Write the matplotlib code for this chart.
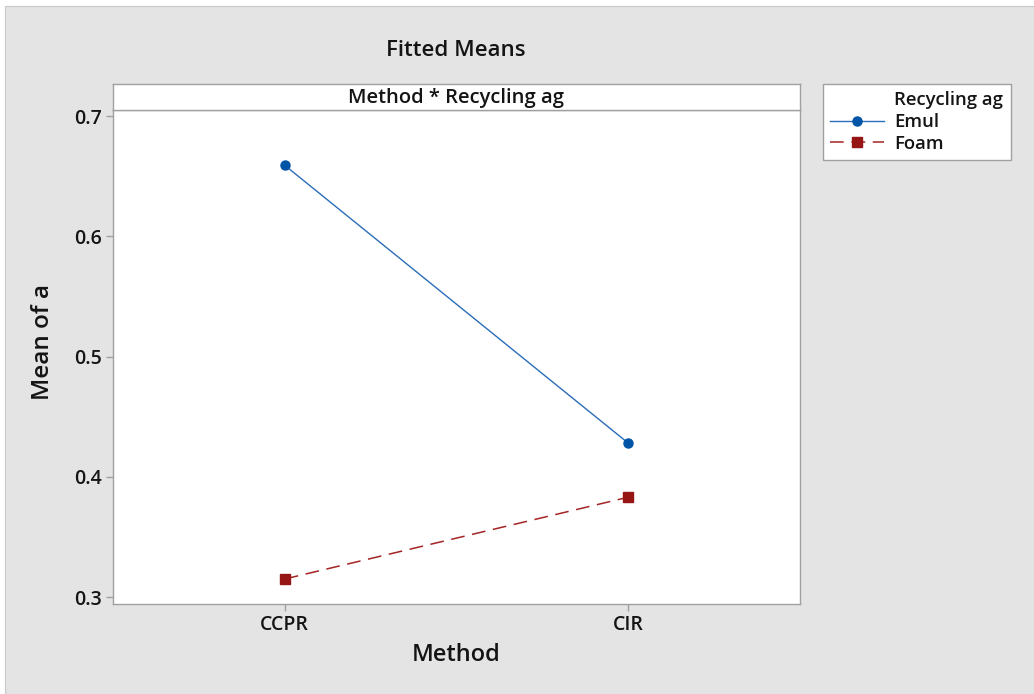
import matplotlib
matplotlib.use("Agg")
import matplotlib.pyplot as plt
from matplotlib.lines import Line2D
from matplotlib.patches import Rectangle

# Data
methods = ["CCPR", "CIR"]
emul_means = [0.659, 0.428]
foam_means = [0.315, 0.383]
y_ticks = [0.3, 0.4, 0.5, 0.6, 0.7]

plt.rcParams["font.family"] = ["Open Sans", "DejaVu Sans"]
plt.rcParams["font.weight"] = "semibold"

W, H = 1034, 694
fig = plt.figure(figsize=(W / 100, H / 100), dpi=100)
fig.patch.set_facecolor("white")

# Gray panel background
fig.add_artist(Rectangle((5 / W, 0), 1 - 5 / W, 1 - 6 / H, transform=fig.transFigure,
                         facecolor="#e4e4e4", edgecolor="#c8c8c8", linewidth=0.8, zorder=-10))

def fx(px):
    return px / W

def fy(py):
    return 1 - py / H

TXT = "#141414"

# Main plot axes
left, right, top, bottom = 113, 800, 110, 604
ax = fig.add_axes([fx(left), fy(bottom), fx(right - left), (bottom - top) / H])
ax.set_facecolor("white")

x = list(range(1, len(methods) + 1))
ax.plot(x, emul_means, color="#2a6db8", linewidth=1.0, marker="o", markersize=6.5,
        markerfacecolor="#0054a6", markeredgecolor="#0054a6", label="Emul", zorder=3)
ax.plot(x, foam_means, color="#a42424", linewidth=1.1, linestyle=(0, (9, 5)),
        marker="s", markersize=6.5, markerfacecolor="#961616", markeredgecolor="#961616",
        label="Foam", zorder=3)

ax.set_xlim(0.5, 2.5)
ax.set_ylim(0.2942, 0.705)
ax.set_xticks(x)
ax.set_xticklabels(methods)
ax.set_yticks(y_ticks)
ax.set_yticklabels([f"{v:.1f}" for v in y_ticks])
ax.tick_params(direction="out", length=5, width=1, color="#a0a0a0",
               labelsize=14, labelcolor=TXT, pad=3)
for s in ax.spines.values():
    s.set_color("#a0a0a0")
    s.set_linewidth(1)

ax.set_xlabel("Method", fontsize=17, fontweight="semibold", color=TXT, labelpad=6)
ax.set_ylabel("Mean of a", fontsize=17.5, fontweight="semibold", color=TXT)
# centre the y label on the whole panel (plot area plus header strip)
ax.yaxis.set_label_coords((55 - left) / (right - left), (bottom - 342) / (bottom - top))

# Panel header strip
hdr = fig.add_axes([fx(left), fy(top), fx(right - left), (top - 84) / H])
hdr.set_facecolor("white")
hdr.set_xticks([])
hdr.set_yticks([])
for s in hdr.spines.values():
    s.set_color("#a0a0a0")
    s.set_linewidth(1)
hdr.text(0.5, 0.48, "Method * Recycling ag", ha="center", va="center",
         fontsize=14.5, color=TXT, transform=hdr.transAxes)

# Title
fig.text(fx(456), fy(50), "Fitted Means", ha="center", va="center",
         fontsize=16, color=TXT)

# Legend
handles, labels = ax.get_legend_handles_labels()
header = Line2D([], [], linestyle="none", marker=None)
leg = fig.legend([header] + handles, ["Recycling ag"] + labels,
                 loc="upper left", bbox_to_anchor=(fx(823), fy(84)),
                 fontsize=13.3, frameon=True, fancybox=False, framealpha=1,
                 handlelength=2.9, handletextpad=0.55, borderpad=0.4,
                 labelspacing=0.2, borderaxespad=0)
leg.get_frame().set_edgecolor("#a0a0a0")
leg.get_frame().set_facecolor("white")
leg.get_frame().set_linewidth(1)
for t in leg.get_texts():
    t.set_color(TXT)

fig.savefig("out.png", dpi=100)
